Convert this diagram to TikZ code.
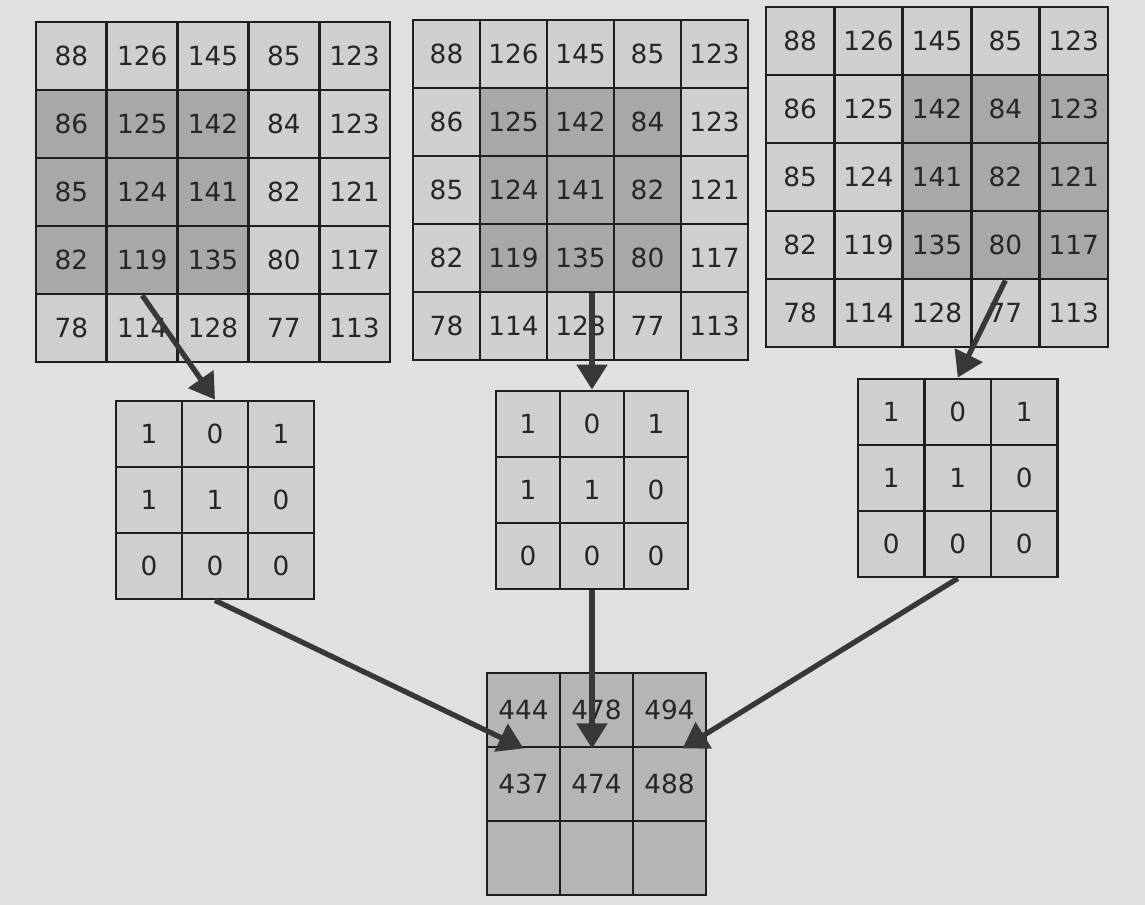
\documentclass[tikz,border=0pt]{standalone}
\usepackage{fontspec}
\newfontfamily\cifras{DejaVu Sans}
\usepackage{tikz}
\usetikzlibrary{arrows.meta,calc,positioning}
\tikzset{
  celda/.style={draw=black!88,line width=1.6pt,inner sep=0pt,text=black!85,font=\cifras\fontsize{15}{17}\selectfont},
  flecha/.style={-{Triangle[length=5mm,width=6mm]},line width=3pt,draw=black!78}
}
\begin{document}
\begin{tikzpicture}[x=0.02cm,y=-0.02cm]
\fill[black!12] (0,0) rectangle (1145,905);
% entradas 5x5, la ventana 3x3 mas oscura
\foreach \g/\gx/\gy/\gw/\c in {a/36/22/70.8/1,b/413/20/67/2,c/766/7/68.4/3}{
  \foreach \fila [count=\i] in {{88,126,145,85,123},{86,125,142,84,123},{85,124,141,82,121},{82,119,135,80,117},{78,114,128,77,113}}{
    \foreach \v [count=\j] in \fila{
      \pgfmathtruncatemacro\tono{(\i>1 && \i<5 && \j>=\c && \j<\c+3) ? 34 : 19}
      \node[celda,fill=black!\tono,minimum width=\gw*0.02cm,minimum height=1.36cm] (\g\i\j) at (\gx+\gw*\j-\gw/2,\gy+68*\i-34) {\v};
    }
  }
}
% nucleos 3x3
\foreach \k/\kx/\ky/\kw in {ka/116/401/66,kb/496/391/64,kc/858/379/66.5}{
  \foreach \fila [count=\i] in {{1,0,1},{1,1,0},{0,0,0}}{
    \foreach \v [count=\j] in \fila{
      \node[celda,fill=black!19,minimum width=\kw*0.02cm,minimum height=1.32cm] (\k\i\j) at (\kx+\kw*\j-\kw/2,\ky+66*\i-33) {\v};
    }
  }
}
% salida
\foreach \fila [count=\i] in {{444,478,494},{437,474,488},{{},{},{}}}{
  \foreach \v [count=\j] in \fila{
    \node[celda,fill=black!29,minimum width=1.46cm,minimum height=1.48cm] (o\i\j) at (487+73*\j-36.5,673+74*\i-37) {\v};
  }
}
\draw[flecha] (a42.south) -- (ka12.north);
\draw[flecha] (b43.south -| kb12.north) -- (kb12.north);
\draw[flecha] (c44.south) -- (kc12.north);
\draw[flecha] (ka32.south) -- (o11.south);
\draw[flecha] (kb32.south) -- (kb32.south |- o12.south);
\draw[flecha] (kc32.south) -- ($(o13.south)+(13,0)$);
\end{tikzpicture}
\end{document}
